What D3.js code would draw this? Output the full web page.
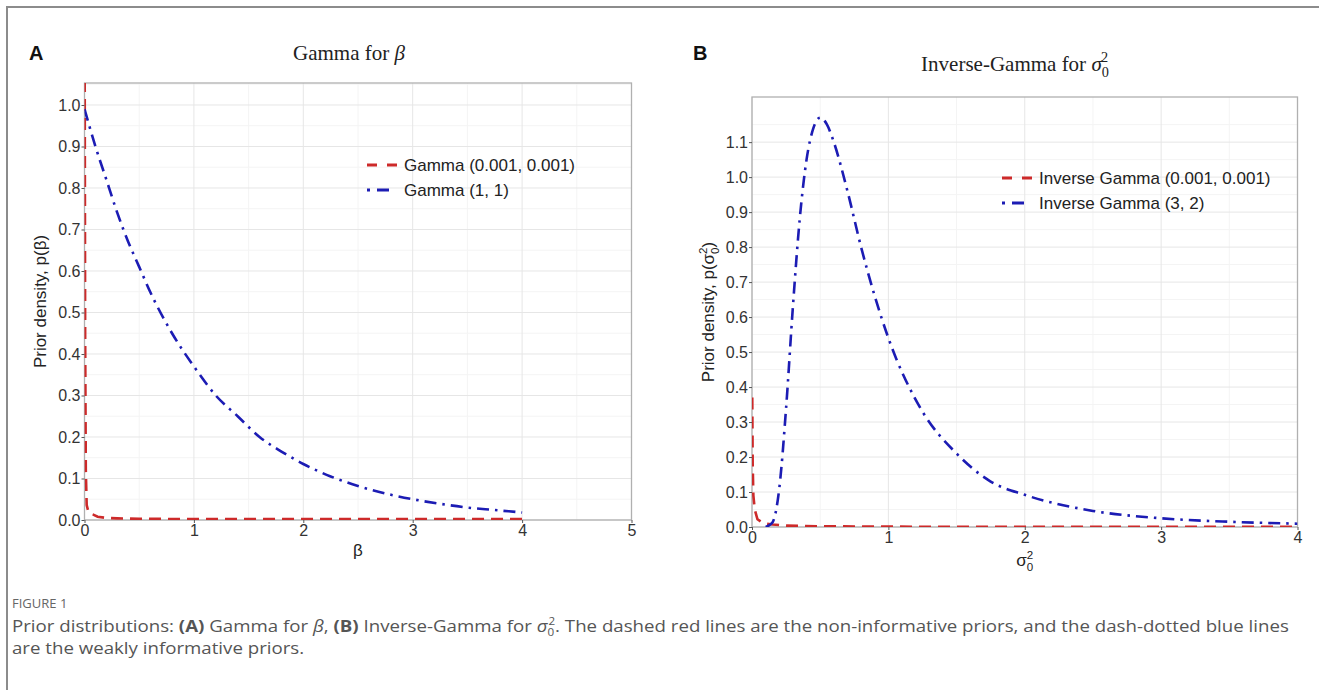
<!DOCTYPE html>
<html>
<head>
<meta charset="utf-8">
<script src="https://cdn.jsdelivr.net/npm/d3@7"></script>
<style>
  body { margin: 0; background: #fff; }
  svg { display: block; }
  text { font-family: "Liberation Sans", Arial, sans-serif; }
</style>
</head>
<body>
<svg id="fig" width="1319" height="690"></svg>
<script>
// --------------------------------------------------
// values
// --------------------------------------------------
const betaTicks = [0, 1, 2, 3, 4, 5];
const betaDensityTicks = [0, 0.1, 0.2, 0.3, 0.4, 0.5, 0.6, 0.7, 0.8, 0.9, 1.0];
const sigmaTicks = [0, 1, 2, 3, 4];
const sigmaDensityTicks = [0, 0.1, 0.2, 0.3, 0.4, 0.5, 0.6, 0.7, 0.8, 0.9, 1.0, 1.1];

// panel A: Gamma(0.001, 0.001), red dashed
const gammaFlatX = [0.002, 0.006, 0.012, 0.02, 0.035, 0.05, 0.08, 0.12, 0.2, 0.3, 0.5, 1, 1.5, 2, 2.5, 3, 3.5, 4];
const gammaFlatY = [1.06, 0.45, 0.12, 0.036, 0.02, 0.016, 0.013, 0.008, 0.005, 0.004, 0.003, 0.002, 0.002, 0.002, 0.002, 0.002, 0.002, 0.002];
// panel A: Gamma(1, 1), blue dash-dot
const gammaWeakX = [0, 0.1, 0.2, 0.3, 0.4, 0.5, 0.6, 0.8, 1.0, 1.2, 1.4, 1.6, 1.8, 2.0, 2.25, 2.5, 2.75, 3.0, 3.25, 3.5, 3.75, 4.0];
const gammaWeakY = [0.99, 0.90, 0.82, 0.74, 0.67, 0.61, 0.55, 0.45, 0.37, 0.30, 0.25, 0.20, 0.165, 0.135, 0.105, 0.082, 0.064, 0.05, 0.039, 0.03, 0.024, 0.018];

// panel B: Inverse Gamma(0.001, 0.001), red dashed
const invFlatX = [0.002, 0.005, 0.01, 0.02, 0.04, 0.07, 0.1, 0.15, 0.25, 0.5, 1, 2, 3, 4];
const invFlatY = [0.37, 0.18, 0.09, 0.05, 0.022, 0.014, 0.01, 0.007, 0.004, 0.002, 0.001, 0.0005, 0.0003, 0.0003];
// panel B: Inverse Gamma(3, 2), blue dash-dot
const invWeakX = [0.1, 0.15, 0.2, 0.25, 0.3, 0.35, 0.4, 0.45, 0.5, 0.55, 0.6, 0.7, 0.8, 0.9, 1.0, 1.25, 1.5, 1.75, 2.0, 2.5, 3.0, 3.5, 4.0];
const invWeakY = [0.0, 0.013, 0.11, 0.34, 0.63, 0.88, 1.05, 1.14, 1.17, 1.15, 1.10, 0.96, 0.80, 0.66, 0.54, 0.33, 0.21, 0.13, 0.092, 0.046, 0.025, 0.015, 0.0095];

const legendA = ["Gamma (0.001, 0.001)", "Gamma (1, 1)"];
const legendB = ["Inverse Gamma (0.001, 0.001)", "Inverse Gamma (3, 2)"];

// --------------------------------------------------
// styles
// --------------------------------------------------
const RED = "#cd2a2a";
const BLUE = "#1c1cb4";
const RED_DASH = "12 7";
const BLUE_DASH = "12 6 2.5 6";

const svg = d3.select("#fig");

// outer frame (top + left edges visible)
svg.append("path")
  .attr("d", "M7,690 V7 H1319")
  .attr("fill", "none")
  .attr("stroke", "#8c8c8c")
  .attr("stroke-width", 2);

// sigma with stacked sub 0 / sup 2
function sigmaSq(sel, size, italic) {
  const s = size * 0.68;
  sel.append("tspan").attr("font-style", italic ? "italic" : null).text("σ");
  sel.append("tspan").attr("font-size", s).attr("dy", size * 0.3).text("0");
  sel.append("tspan").attr("font-size", s).attr("dx", -s * 0.56).attr("dy", -size * 0.72).text("2");
}

function drawPanel(cfg) {
  const x = d3.scaleLinear().domain(cfg.xDomain).range([cfg.left, cfg.right]);
  const y = d3.scaleLinear().domain(cfg.yDomain).range([cfg.bottom, cfg.top]);
  const g = svg.append("g");

  svg.append("clipPath").attr("id", "clip-" + cfg.id)
    .append("rect")
    .attr("x", cfg.left).attr("y", cfg.top)
    .attr("width", cfg.right - cfg.left).attr("height", cfg.bottom - cfg.top);

  // minor grid (halfway between majors)
  const xMinor = d3.pairs(cfg.xTicks).map(([a, b]) => (a + b) / 2);
  const yMinor = d3.pairs(cfg.yTicks.concat([cfg.yTicks[cfg.yTicks.length - 1] + 0.1]))
    .map(([a, b]) => (a + b) / 2).filter(v => v < cfg.yDomain[1]);

  const grid = g.append("g");
  grid.selectAll(".xmin").data(xMinor).join("line")
    .attr("x1", d => x(d)).attr("x2", d => x(d))
    .attr("y1", cfg.top).attr("y2", cfg.bottom)
    .attr("stroke", "#f4f4f4").attr("stroke-width", 1);
  grid.selectAll(".ymin").data(yMinor).join("line")
    .attr("x1", cfg.left).attr("x2", cfg.right)
    .attr("y1", d => y(d)).attr("y2", d => y(d))
    .attr("stroke", "#f4f4f4").attr("stroke-width", 1);
  grid.selectAll(".xmaj").data(cfg.xTicks).join("line")
    .attr("x1", d => x(d)).attr("x2", d => x(d))
    .attr("y1", cfg.top).attr("y2", cfg.bottom)
    .attr("stroke", "#e6e6e6").attr("stroke-width", 1);
  grid.selectAll(".ymaj").data(cfg.yTicks).join("line")
    .attr("x1", cfg.left).attr("x2", cfg.right)
    .attr("y1", d => y(d)).attr("y2", d => y(d))
    .attr("stroke", "#e6e6e6").attr("stroke-width", 1);

  // panel border
  g.append("rect")
    .attr("x", cfg.left).attr("y", cfg.top)
    .attr("width", cfg.right - cfg.left).attr("height", cfg.bottom - cfg.top)
    .attr("fill", "none").attr("stroke", "#b0b0b0").attr("stroke-width", 1.3);

  // series
  const lines = g.append("g").attr("clip-path", `url(#clip-${cfg.id})`);
  cfg.series.forEach(s => {
    const pts = s.x.map((v, i) => [v, s.y[i]]);
    lines.append("path")
      .datum(pts)
      .attr("fill", "none")
      .attr("stroke", s.color)
      .attr("stroke-width", 2.6)
      .attr("stroke-dasharray", s.dash)
      .attr("d", d3.line().x(d => x(d[0])).y(d => y(d[1])).curve(s.curve)(pts));
  });

  // axes
  const yAxis = g.append("g").attr("transform", `translate(${cfg.left},0)`)
    .call(d3.axisLeft(y).tickValues(cfg.yTicks).tickSize(3).tickPadding(1).tickFormat(d3.format(".1f")));
  const xAxis = g.append("g").attr("transform", `translate(0,${cfg.bottom})`)
    .call(d3.axisBottom(x).tickValues(cfg.xTicks).tickSize(3).tickPadding(2).tickFormat(d3.format("d")));
  [yAxis, xAxis].forEach(a => {
    a.select(".domain").remove();
    a.selectAll(".tick line").attr("stroke", "#555");
    a.selectAll(".tick text")
      .attr("fill", "#333")
      .style("font-family", "'Liberation Sans', Arial, sans-serif")
      .style("font-size", "16px");
  });

  // legend
  cfg.series.forEach((s, i) => {
    const ly = cfg.legendY + i * 25;
    g.append("line")
      .attr("x1", cfg.legendX).attr("x2", cfg.legendX + 30)
      .attr("y1", ly).attr("y2", ly)
      .attr("stroke", s.color).attr("stroke-width", 3)
      .attr("stroke-dasharray", s.legendDash);
    g.append("text")
      .attr("x", cfg.legendX + 37).attr("y", ly + 6)
      .attr("fill", "#222").style("font-size", "17px")
      .text(s.label);
  });

  // panel letter
  g.append("text")
    .attr("x", cfg.letterX).attr("y", 60)
    .attr("font-weight", "bold").style("font-size", "20px").attr("fill", "#111")
    .text(cfg.letter);

  // title
  const title = g.append("text")
    .attr("x", cfg.titleX).attr("y", cfg.titleY)
    .attr("text-anchor", "middle").attr("fill", "#222")
    .style("font-family", "'Liberation Serif', 'Times New Roman', serif")
    .style("font-size", "21px");
  cfg.title(title);

  // y title
  const yt = g.append("text")
    .attr("transform", `translate(${cfg.yLabelX},${(cfg.top + cfg.bottom) / 2}) rotate(-90)`)
    .attr("text-anchor", "middle").attr("fill", "#222").style("font-size", "17px");
  cfg.yLabel(yt);

  // x title
  const xt = g.append("text")
    .attr("x", (cfg.left + cfg.right) / 2).attr("y", cfg.xLabelY)
    .attr("text-anchor", "middle").attr("fill", "#222").style("font-size", "17px");
  cfg.xLabel(xt);
}

drawPanel({
  id: "a", letter: "A", letterX: 29,
  left: 84.5, right: 631.5, top: 83, bottom: 520,
  xDomain: [0, 5], yDomain: [0, 1.053],
  xTicks: betaTicks, yTicks: betaDensityTicks,
  legendX: 367, legendY: 165,
  titleX: 349, titleY: 60,
  yLabelX: 46, xLabelY: 556,
  series: [
    { x: gammaFlatX, y: gammaFlatY, color: RED, dash: RED_DASH, legendDash: "10 10", curve: d3.curveLinear, label: legendA[0] },
    { x: gammaWeakX, y: gammaWeakY, color: BLUE, dash: BLUE_DASH, legendDash: "3 7 12 20", curve: d3.curveMonotoneX, label: legendA[1] }
  ],
  title: t => {
    t.append("tspan").text("Gamma for ");
    t.append("tspan").attr("font-style", "italic").text("β");
  },
  yLabel: t => t.text("Prior density, p(β)"),
  xLabel: t => t.text("β")
});

drawPanel({
  id: "b", letter: "B", letterX: 693,
  left: 752, right: 1297.5, top: 97, bottom: 527,
  xDomain: [0, 4], yDomain: [0, 1.229],
  xTicks: sigmaTicks, yTicks: sigmaDensityTicks,
  legendX: 1002, legendY: 178,
  titleX: 1015, titleY: 71,
  yLabelX: 714, xLabelY: 566,
  series: [
    { x: invFlatX, y: invFlatY, color: RED, dash: RED_DASH, legendDash: "10 10", curve: d3.curveLinear, label: legendB[0] },
    { x: invWeakX, y: invWeakY, color: BLUE, dash: BLUE_DASH, legendDash: "3 7 12 20", curve: d3.curveMonotoneX, label: legendB[1] }
  ],
  title: t => {
    t.append("tspan").text("Inverse-Gamma for ");
    sigmaSq(t, 21, true);
  },
  yLabel: t => {
    t.append("tspan").text("Prior density, p(");
    sigmaSq(t, 17, false);
    t.append("tspan").attr("dy", 17 * 0.42).text(")");
  },
  xLabel: t => sigmaSq(t, 17, false)
});

// --------------------------------------------------
// caption
// --------------------------------------------------
const cap = svg.append("g");
cap.append("text")
  .attr("x", 12).attr("y", 608)
  .attr("fill", "#666").style("font-size", "13px")
  .style("font-family", "'Open Sans', sans-serif")
  .text("FIGURE 1");

const line1 = cap.append("text").attr("x", 12).attr("y", 632)
  .attr("fill", "#555").style("font-size", "16px").style("font-family", "'Open Sans', sans-serif");
line1.append("tspan").text("Prior distributions: ");
line1.append("tspan").attr("font-weight", "bold").text("(A)");
line1.append("tspan").text(" Gamma for ");
line1.append("tspan").attr("font-style", "italic").text("β");
line1.append("tspan").text(", ");
line1.append("tspan").attr("font-weight", "bold").text("(B)");
line1.append("tspan").text(" Inverse-Gamma for ");
line1.append("tspan").attr("font-style", "italic").text("σ");
line1.append("tspan").style("font-size", "10px").attr("dy", 4).text("0");
line1.append("tspan").style("font-size", "10px").attr("dx", -5).attr("dy", -11).text("2");
line1.append("tspan").attr("dy", 7).text(". The dashed red lines are the non-informative priors, and the dash-dotted blue lines");

const line2 = cap.append("text").attr("x", 12).attr("y", 654)
  .attr("fill", "#555").style("font-size", "16px").style("font-family", "'Open Sans', sans-serif")
  .text("are the weakly informative priors.");

// squeeze caption horizontally to the printed width
const natural = line1.node().getComputedTextLength();
const sx = 1284 / natural;
[line1, line2].forEach(t => t.attr("transform", `translate(12,0) scale(${sx},1) translate(-12,0)`));
</script>
</body>
</html>
